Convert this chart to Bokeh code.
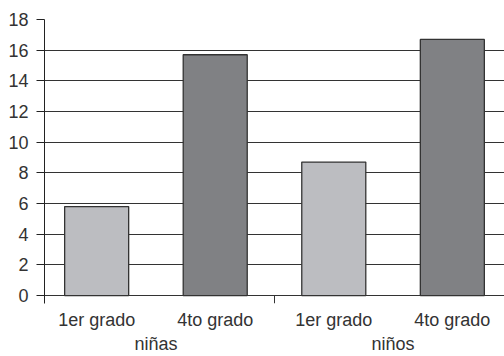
from bokeh.plotting import figure
from bokeh.models import FactorRange, Range1d, FixedTicker, ColumnDataSource, CategoricalAxis
from bokeh.transform import factor_cmap
from bokeh.embed import file_html
from bokeh.resources import INLINE

groups = ["niñas", "niñas", "niños", "niños"]
grades = ["1er grado", "4to grado", "1er grado", "4to grado"]
values = [5.8, 15.7, 8.7, 16.7]
y_ticks = [0, 2, 4, 6, 8, 10, 12, 14, 16, 18]
grade_levels = ["1er grado", "4to grado"]
group_names = ["niñas", "niños"]

x = list(zip(groups, grades))
src = ColumnDataSource(dict(x=x, v=values, g=grades))

FONT = "Liberation Sans"
TXT = "#333333"

xr = FactorRange(*x, group_padding=0, factor_padding=0,
                 range_padding=-0.06, range_padding_units="absolute")
p = figure(x_range=xr, y_range=Range1d(-0.52, 18), width=504, height=356,
           output_backend="svg", toolbar_location=None,
           min_border_left=44, min_border_right=0, min_border_top=19, min_border_bottom=53)
p.outline_line_color = None
p.extra_x_ranges = {"grp": FactorRange(*group_names, factor_padding=0,
                                       range_padding=-0.03, range_padding_units="absolute")}

p.vbar(x="x", top="v", width=0.54, source=src,
       fill_color=factor_cmap("g", ["#bcbdc1", "#808184"], grade_levels),
       line_color="#333333", line_width=1.3)

# group separator tick below the zero line
sep_x = [(groups[1], grades[1], 0.5)]
p.segment(x0=sep_x, x1=sep_x, y0=[0], y1=[-0.52], line_color="#333333", line_width=1)

p.yaxis.ticker = FixedTicker(ticks=y_ticks)
p.yaxis.axis_line_color = "#222222"
p.yaxis.axis_line_width = 1
p.yaxis.major_tick_out = 8
p.yaxis.major_tick_in = 0
p.yaxis.major_tick_line_color = "#222222"
p.yaxis.minor_tick_line_color = None
p.yaxis.major_label_standoff = 8
p.yaxis.major_label_text_font = FONT
p.yaxis.major_label_text_font_size = "18px"
p.yaxis.major_label_text_color = TXT

p.ygrid.ticker = FixedTicker(ticks=y_ticks)
p.ygrid.grid_line_color = "#333333"
p.ygrid.grid_line_width = 1.2
p.xgrid.grid_line_color = None

xa = p.xaxis[0]
xa.axis_line_color = None
xa.major_tick_line_color = None
xa.major_tick_out = 0
xa.major_tick_in = 0
xa.minor_tick_line_color = None
xa.separator_line_color = None
xa.major_label_standoff = 6
xa.major_label_text_font = FONT
xa.major_label_text_font_size = "18px"
xa.major_label_text_color = TXT
xa.group_text_font_size = "0px"
xa.group_text_color = None

ga = CategoricalAxis(x_range_name="grp")
ga.axis_line_color = None
ga.major_tick_line_color = None
ga.major_tick_out = 0
ga.major_tick_in = 0
ga.minor_tick_line_color = None
ga.major_label_standoff = 1
ga.major_label_text_font = FONT
ga.major_label_text_font_size = "18px"
ga.major_label_text_color = TXT
p.add_layout(ga, "below")

open("out.html", "w").write(file_html(p, INLINE))
